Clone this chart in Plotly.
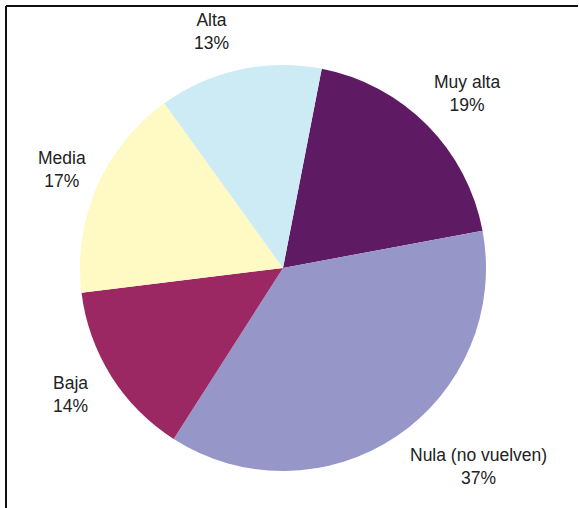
import plotly.graph_objects as go

labels = ["Muy alta", "Nula (no vuelven)", "Baja", "Media", "Alta"]
values = [19, 37, 14, 17, 13]
colors = ["#5E1A62", "#9696C8", "#9B2863", "#FFF9C4", "#CDEBF5"]

# label text positions in target pixels (layout only)
label_px = [(467, 93), (478, 466), (70, 394), (62, 169), (211, 31)]

W, H = 579, 508
L, T, S = 80, 65, 406  # plot square
R = W - L - S
B = H - T - S

fig = go.Figure(go.Pie(
    labels=labels, values=values, sort=False, direction="clockwise",
    rotation=11, marker=dict(colors=colors, line=dict(width=0)),
    textinfo="none", hoverinfo="label+percent", showlegend=False,
))

total = sum(values)
for lab, v, (px, py) in zip(labels, values, label_px):
    fig.add_annotation(
        x=(px - L) / S, y=(H - B - py) / S, xref="paper", yref="paper",
        text=f"{lab}<br>{round(100 * v / total)}%", showarrow=False,
        font=dict(family="Liberation Sans, Arial", size=17.5, color="#222222"),
        align="center", xanchor="center", yanchor="middle",
    )

# frame: only top and left edges are visible in the reference
fig.add_shape(type="line", xref="paper", yref="paper",
              x0=(6 - L) / S, x1=(578 - L) / S, y0=(H - B - 6) / S, y1=(H - B - 6) / S,
              line=dict(color="#111111", width=2))
fig.add_shape(type="line", xref="paper", yref="paper",
              x0=(6 - L) / S, x1=(6 - L) / S, y0=(H - B - 6) / S, y1=(H - B - 510) / S,
              line=dict(color="#111111", width=2))

fig.update_layout(
    width=W, height=H, margin=dict(l=L, r=R, t=T, b=B),
    paper_bgcolor="white", plot_bgcolor="white",
)
fig.write_html("out.html", config={"displayModeBar": False},
               post_script="document.body.style.margin='0';document.body.style.overflow='hidden';")
